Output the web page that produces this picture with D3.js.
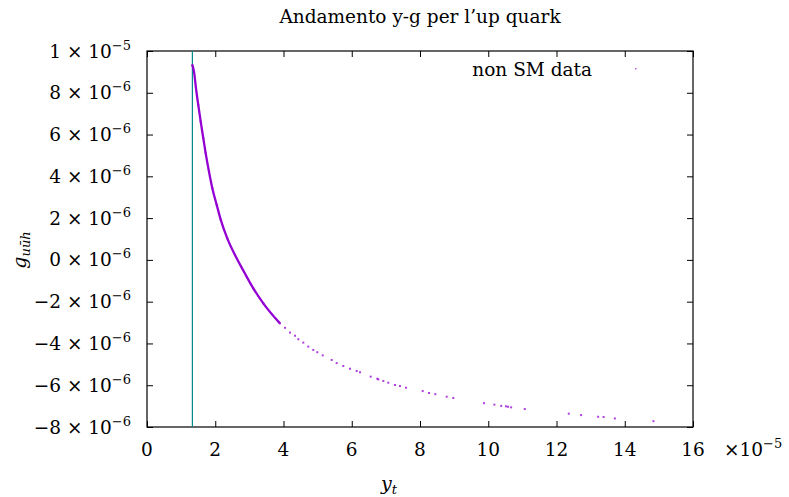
<!DOCTYPE html>
<html>
<head>
<meta charset="utf-8">
<script src="https://cdn.jsdelivr.net/npm/d3@7"></script>
<style>
    body { margin: 0; background: #fff; }
    text { font-family: "DejaVu Serif", "Liberation Serif", serif; fill: #000; }
</style>
</head>
<body>
<div id="chart"></div>
<script>
    // y_t values, in units of 1e-5
    var ytValues = [1.327, 1.377, 1.436, 1.503, 1.574, 1.650, 1.720, 1.817, 1.914, 2.043,
        2.160, 2.353, 2.579, 2.842, 3.115, 3.408, 3.897, 4.044, 4.19, 4.337,
        4.435, 4.580, 4.727, 4.873, 4.99, 5.149, 5.412, 5.559, 5.752, 5.949,
        6.145, 6.242, 6.555, 6.749, 6.778, 6.925, 7.071, 7.267, 7.414, 7.590,
        8.079, 8.264, 8.448, 8.782, 8.976, 9.875, 10.18, 10.38, 10.52, 10.58,
        10.67, 11.07, 12.36, 12.72, 13.22, 13.38, 13.71, 14.84];
    // g_uuh values, in units of 1e-6
    var gValues = [9.33, 9.01, 8.21, 7.41, 6.62, 5.82, 5.10, 4.22, 3.43, 2.63,
        1.93, 1.03, 0.23, -0.57, -1.36, -2.08, -3.04, -3.25, -3.48, -3.63,
        -3.80, -3.96, -4.15, -4.31, -4.42, -4.57, -4.79, -4.94, -5.08, -5.21,
        -5.32, -5.38, -5.59, -5.69, -5.72, -5.80, -5.88, -5.99, -6.04, -6.12,
        -6.28, -6.37, -6.43, -6.55, -6.61, -6.86, -6.93, -6.99, -7.01, -7.03,
        -7.06, -7.14, -7.36, -7.43, -7.51, -7.52, -7.59, -7.72];

    var xTicks = [0, 2, 4, 6, 8, 10, 12, 14, 16];
    var yTicks = [-8, -6, -4, -2, 0, 2, 4, 6, 8, 10];
    var yTickMantissa = ["\u22128", "\u22126", "\u22124", "\u22122", "0", "2", "4", "6", "8", "1"];
    var yTickExponent = ["\u22126", "\u22126", "\u22126", "\u22126", "\u22126", "\u22126", "\u22126", "\u22126", "\u22126", "\u22125"];

    // vertical reference line (SM value of y_t)
    var smYt = 1.33;

    var data = ytValues.map(function (d, i) {
        return {yt: d, g: gValues[i]};
    });

    var width = 789, height = 497;
    var margin = {top: 51, right: 96, bottom: 70, left: 147};
    var innerW = width - margin.left - margin.right;
    var innerH = height - margin.top - margin.bottom;
    var purple = "#9400d3";

    var svg = d3.select("#chart").append("svg")
        .attr("width", width)
        .attr("height", height);

    var g = svg.append("g")
        .attr("transform", "translate(" + margin.left + "," + margin.top + ")");

    var x = d3.scaleLinear().domain([0, 16]).range([0, innerW]);
    var y = d3.scaleLinear().domain([-8, 10]).range([innerH, 0]);

    // tick marks on all four sides, pointing inward
    var tickLen = 6;
    g.append("g").attr("class", "axis axis--x")
        .attr("transform", "translate(0," + innerH + ")")
        .call(d3.axisBottom(x).tickValues(xTicks).tickSizeInner(-tickLen).tickSizeOuter(0).tickFormat(""));
    g.append("g").attr("class", "axis axis--x2")
        .call(d3.axisTop(x).tickValues(xTicks).tickSizeInner(-tickLen).tickSizeOuter(0).tickFormat(""));
    g.append("g").attr("class", "axis axis--y")
        .call(d3.axisLeft(y).tickValues(yTicks).tickSizeInner(-tickLen).tickSizeOuter(0).tickFormat(""));
    g.append("g").attr("class", "axis axis--y2")
        .attr("transform", "translate(" + innerW + ",0)")
        .call(d3.axisRight(y).tickValues(yTicks).tickSizeInner(-tickLen).tickSizeOuter(0).tickFormat(""));
    g.selectAll(".axis path").remove();
    g.selectAll(".axis line").attr("stroke", "#000").attr("stroke-width", 1);

    var fontSize = "18.5px", supSize = "13px";

    // x tick labels
    g.selectAll(".xlab")
        .data(xTicks)
        .enter().append("text")
        .attr("class", "xlab")
        .attr("x", function (d) { return x(d); })
        .attr("y", innerH + 29)
        .attr("text-anchor", "middle")
        .style("font-size", fontSize)
        .text(function (d) { return d; });

    // x multiplier
    var mult = g.append("text")
        .attr("x", innerW + 31)
        .attr("y", innerH + 29)
        .style("font-size", fontSize);
    mult.append("tspan").text("\u00d710");
    mult.append("tspan").attr("dy", -8).style("font-size", supSize).text("\u22125");

    // y tick labels
    var ylab = g.selectAll(".ylab")
        .data(yTicks)
        .enter().append("text")
        .attr("class", "ylab")
        .attr("x", -16)
        .attr("y", function (d) { return y(d) + 6.5; })
        .attr("text-anchor", "end")
        .style("font-size", fontSize);
    ylab.append("tspan").text(function (d, i) { return yTickMantissa[i] + " \u00d7 10"; });
    ylab.append("tspan").attr("dy", -8).style("font-size", supSize)
        .text(function (d, i) { return yTickExponent[i]; });

    // frame
    g.append("rect")
        .attr("width", innerW)
        .attr("height", innerH)
        .attr("fill", "none")
        .attr("stroke", "#000")
        .attr("stroke-width", 1.2);

    // SM reference line
    g.append("line")
        .attr("x1", x(smYt)).attr("x2", x(smYt))
        .attr("y1", 0).attr("y2", innerH)
        .attr("stroke", "#008b8b")
        .attr("stroke-width", 1.2);

    // dense part of the scan drawn as a thick band through the points
    var dense = data.filter(function (d) { return d.yt < 4.0; });
    g.append("path")
        .datum(dense)
        .attr("fill", "none")
        .attr("stroke", purple)
        .attr("stroke-width", 2.3)
        .attr("d", d3.line()
            .curve(d3.curveMonotoneX)
            .x(function (d) { return x(d.yt); })
            .y(function (d) { return y(d.g); }));

    // scan points
    g.selectAll(".dot")
        .data(data)
        .enter().append("rect")
        .attr("class", "dot")
        .attr("x", function (d) { return x(d.yt) - 1; })
        .attr("y", function (d) { return y(d.g) - 1; })
        .attr("width", 2)
        .attr("height", 2)
        .attr("fill", purple)
        .attr("opacity", 0.75);

    // legend
    g.append("text")
        .attr("x", 445)
        .attr("y", 25)
        .attr("text-anchor", "end")
        .style("font-size", fontSize)
        .text("non SM data");
    g.append("rect")
        .attr("x", 488).attr("y", 17)
        .attr("width", 1.5).attr("height", 1.5)
        .attr("fill", purple)
        .attr("opacity", 0.6);

    // title
    svg.append("text")
        .attr("x", margin.left + innerW / 2)
        .attr("y", 23)
        .attr("text-anchor", "middle")
        .style("font-size", fontSize)
        .text("Andamento y-g per l\u2019up quark");

    // axis titles
    var xt = svg.append("text")
        .attr("x", 389)
        .attr("y", 490)
        .attr("text-anchor", "middle")
        .style("font-size", "19px")
        .style("font-style", "italic");
    xt.append("tspan").text("y");
    xt.append("tspan").attr("dy", 4).style("font-size", "13px").text("t");

    var yt = svg.append("text")
        .attr("transform", "translate(26,250) rotate(-90)")
        .attr("text-anchor", "middle")
        .style("font-size", "19px")
        .style("font-style", "italic");
    yt.append("tspan").text("g");
    yt.append("tspan").attr("dy", 4).style("font-size", "13px").text("u\u016bh");
</script>
</body>
</html>
